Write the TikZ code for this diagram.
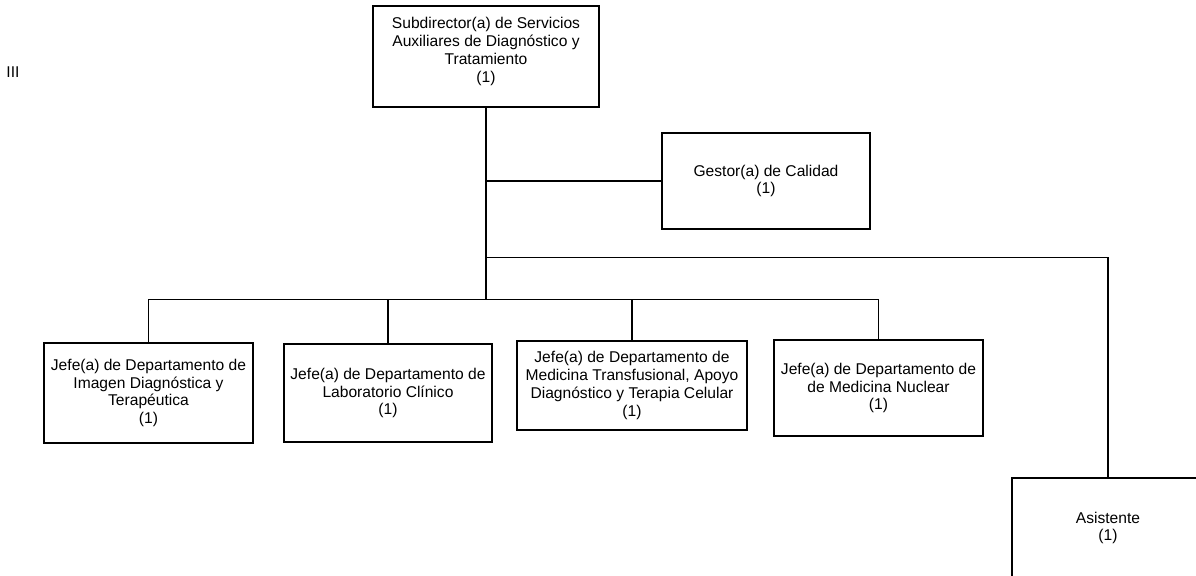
\documentclass[tikz,border=0pt]{standalone}
\usepackage{fontspec}
\setmainfont{Liberation Sans}
\usetikzlibrary{positioning}

\begin{document}
\begin{tikzpicture}[
		x=0.75pt, y=-0.75pt,
		font=\fontsize{11.7}{13.4}\selectfont,
		box/.style={
			rectangle,
			draw=black,
			line width=0.9pt,
			align=center,
			inner sep=2pt
		},
		link/.style={
			line width=0.9pt,
			draw=black
		}
		]
		\useasboundingbox (0,0) rectangle (1196,575);
		
		% Main nodes
		\node (top) [box, minimum width=169.5pt, minimum height=75.75pt] at (486,56.5) {Subdirector(a) de Servicios\\ Auxiliares de Diagn\'ostico y\\ Tratamiento\\ (1)\\[-3.6pt]};
		\node (gestor) [box, minimum width=156pt, minimum height=72pt] at (766,181) {Gestor(a) de Calidad\\ (1)};
		\node (asis) [box, minimum width=144pt, minimum height=75pt] at (1108,528) {Asistente\\ (1)};
		
		% Departments
		\node (jefeA) [box, minimum width=156.75pt, minimum height=75pt] at (148.5,393) {Jefe(a) de Departamento de\\ Imagen Diagn\'ostica y\\ Terap\'eutica\\ (1)};
		\node (jefeB) [box, minimum width=156pt, minimum height=73.5pt] at (388,393) {Jefe(a) de Departamento de\\ Laboratorio Cl\'inico\\ (1)};
		\node (jefeC) [box, minimum width=172.5pt, minimum height=66.75pt] at (632,385.5) {Jefe(a) de Departamento de\\ Medicina Transfusional, Apoyo\\ Diagn\'ostico y Terapia Celular\\ (1)};
		\node (jefeD) [box, minimum width=156.75pt, minimum height=72pt] at (878.5,388) {Jefe(a) de Departamento de\\ de Medicina Nuclear\\ (1)};
		
		% Level mark
		\node (level) at (13,72) {III};
		
		% Connection lines
		\draw [link] (top.south) -- ++(0,192) coordinate (bus);
		\draw [link] (top.south |- gestor.west) -- (gestor.west);
		\draw [link] (top.south) ++(0,150) -| (asis.north);
		\draw [link] (jefeA.north) |- (bus);
		\draw [link] (jefeB.north) |- (bus);
		\draw [link] (jefeC.north) |- (bus);
		\draw [link] (jefeD.north) |- (bus);
		
	\end{tikzpicture}
\end{document}
